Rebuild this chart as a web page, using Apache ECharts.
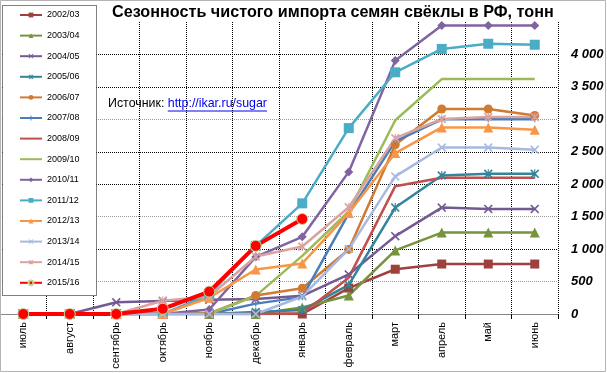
<!DOCTYPE html>
<html><head><meta charset="utf-8">
<script src="https://cdn.jsdelivr.net/npm/echarts@6/dist/echarts.min.js"></script>
<style>html,body{margin:0;padding:0;background:#fff}#c{width:607px;height:373px}</style>
</head><body><div id="c"></div>
<script>
const months = ['июль','август','сентябрь','октябрь','ноябрь','декабрь','январь','февраль','март','апрель','май','июнь'];
const seasons = ['2002/03','2003/04','2004/05','2005/06','2006/07','2007/08','2008/09','2009/10','2010/11','2011/12','2012/13','2013/14','2014/15','2015/16'];
const s2002_03 = [0,0,0,0,0,0,0,400,690,770,770,770];
const s2003_04 = [0,0,0,0,0,0,100,285,980,1255,1255,1255];
const s2004_05 = [0,0,180,200,220,230,280,610,1200,1640,1620,1620];
const s2005_06 = [0,0,0,0,0,30,60,450,1640,2135,2160,2160];
const s2006_07 = [0,0,0,0,10,285,396,995,2608,3160,3160,3060];
const s2007_08 = [0,0,0,0,0,160,260,1550,2660,3000,3000,3000];
const s2008_09 = [0,0,0,0,0,0,10,560,1970,2100,2100,2100];
const s2009_10 = [0,0,0,0,0,280,895,1580,2985,3620,3620,3620];
const s2010_11 = [0,0,0,0,70,880,1190,2190,3905,4445,4445,4445];
const s2011_12 = [0,0,0,0,300,1050,1705,2865,3725,4085,4165,4150];
const s2012_13 = [0,0,0,0,250,685,780,1555,2480,2875,2875,2840];
const s2013_14 = [0,0,0,0,0,0,270,1000,2120,2565,2565,2530];
const s2014_15 = [0,0,0,205,270,885,1040,1645,2710,3005,3035,3035];
const s2015_16 = [0,0,0,80,345,1050,1465,null,null,null,null,null];
const yTicks = ['0','500','1 000','1 500','2 000','2 500','3 000','3 500','4 000',''];

const X = 'path://M0,1.3 L1.3,0 L5,3.7 L8.7,0 L10,1.3 L6.3,5 L10,8.7 L8.7,10 L5,6.3 L1.3,10 L0,8.7 L3.7,5 Z';
const AST = X + ' M4.4,0 L5.6,0 L5.6,10 L4.4,10 Z';
const PLUS = 'path://M4,0 L6,0 L6,4 L10,4 L10,6 L6,6 L6,10 L4,10 L4,6 L0,6 L0,4 L4,4 Z';

const styles = [
  ['#9E413E','rect',9,2.5],
  ['#77933C','triangle',10,2.5],
  ['#735A94',X,9,2.5],
  ['#31859C',AST,9,2.5],
  ['#D07A32','circle',9,2.5],
  ['#4A7EBB',PLUS,6,2.5],
  ['#C0504D','none',0,2.5],
  ['#9BBB59','none',0,2.5],
  ['#8064A2','diamond',9,2.5],
  ['#4BACC6','rect',10,2.5],
  ['#F79646','triangle',10,2.5],
  ['#A7B9E0',X,9,2.5],
  ['#D9A3A0',AST,9,2.5],
  ['#FF0000','circle',11,4]
];
const values = [s2002_03,s2003_04,s2004_05,s2005_06,s2006_07,s2007_08,s2008_09,s2009_10,s2010_11,s2011_12,s2012_13,s2013_14,s2014_15,s2015_16];

const series = seasons.map((name,i)=>{
  const [color,symbol,size,w] = styles[i];
  return {
    name, type:'line', data: values[i], symbol, symbolSize:size, showSymbol: symbol!=='none',
    lineStyle:{color, width:w}, itemStyle: i===13 ? {color, borderColor:'#C4D79B', borderWidth:1} : {color},
    emphasis:{disabled:true}, animation:false, connectNulls:false, silent:true
  };
});
const legendData = seasons.map((name,i)=> styles[i][1]==='none' ? {name, itemStyle:{opacity:0}} : {name});

const FONT = '"Liberation Sans", Arial, sans-serif';
const srcFont = '12.4px "Liberation Sans"';
const ctx = document.createElement('canvas').getContext('2d');
ctx.font = srcFont;
const srcA = 'Источник: ';
const srcB = 'http://ikar.ru/sugar';
const wA = ctx.measureText(srcA).width;
const wB = ctx.measureText(srcB).width;
const srcX = 108, srcY = 104;

const chart = echarts.init(document.getElementById('c'), null, {renderer:'canvas'});
chart.setOption({
  animation:false,
  backgroundColor:'#fff',
  title:{text:'Сезонность чистого импорта семян свёклы в РФ, тонн', left:112, top:5, padding:0,
    textStyle:{fontSize:16.2, fontWeight:'bold', color:'#000', fontFamily:FONT}},
  grid:{left:0, right:49, top:22, bottom:59, containLabel:false, outerBoundsMode:'none'},
  legend:{data:legendData, orient:'vertical', left:19, top:10.5, padding:0, itemWidth:22, itemHeight:6, itemGap:11.6,
    textStyle:{fontSize:9, color:'#000', fontFamily:FONT}, selectedMode:false, z:6},
  xAxis:{type:'category', data:months, boundaryGap:true,
    axisLine:{lineStyle:{color:'#868686', width:1}},
    axisTick:{show:true, length:5, inside:false, alignWithLabel:false, lineStyle:{color:'#000'}},
    axisLabel:{rotate:90, interval:0, margin:8, fontSize:11, color:'#000', fontFamily:FONT},
    splitLine:{show:true, interval:0, lineStyle:{color:'#000', type:[1,1], width:1}}},
  yAxis:{type:'value', position:'right', min:0, max:4500, interval:500,
    axisLine:{show:false}, axisTick:{show:false},
    splitLine:{show:true, lineStyle:{type:[1,1], width:1,
      color:['rgba(0,0,0,0)','#999','#000','#999','#000','#000','#999','#000','#000','rgba(0,0,0,0)']}},
    axisLabel:{margin:13, fontSize:13, fontWeight:'bold', fontStyle:'italic', color:'#000', align:'left',
      fontFamily:FONT,
      formatter:(v)=> yTicks[Math.round(v/500)] }},
  graphic:{elements:[
    {type:'rect', z:3, silent:true, shape:{x:2.5,y:5.5,width:94,height:290}, style:{fill:'#fff', stroke:'#000', lineWidth:1, lineDash:[1,1]}},
    {type:'rect', z:10, silent:true, shape:{x:0.5,y:0.5,width:605,height:371}, style:{fill:'none', stroke:'#b4b4b4', lineWidth:1}},
    {type:'text', z:5, silent:true, x:srcX, y:srcY, style:{text:srcA, fill:'#000', font:srcFont, verticalAlign:'middle'}},
    {type:'text', z:5, silent:true, x:srcX+wA, y:srcY, style:{text:srcB, fill:'#0000EE', font:srcFont, verticalAlign:'middle'}},
    {type:'line', z:5, silent:true, shape:{x1:srcX+wA, y1:srcY+7, x2:srcX+wA+wB, y2:srcY+7}, style:{stroke:'#0000EE', lineWidth:1}}
  ]},
  series
});
</script></body></html>
